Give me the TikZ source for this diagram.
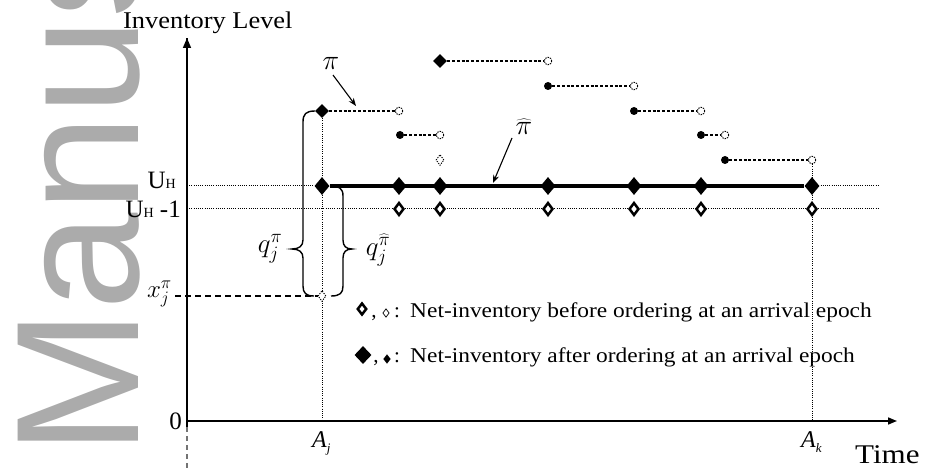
\RequirePackage{fix-cm}
\documentclass[tikz,border=0pt]{standalone}
\usepackage{fontspec}
\setmainfont{Liberation Serif}
\newfontfamily\wmfont{Liberation Sans}
\usepackage{graphicx}
\usetikzlibrary{shapes.geometric,arrows.meta,backgrounds}
\newcommand\fs[1]{\fontsize{#1}{#1}\selectfont}
\begin{document}
\begin{tikzpicture}[x=1pt,y=-1pt,
  bigD/.style={diamond,fill=black,inner sep=0pt,minimum width=15pt,minimum height=18pt},
  stepD/.style={diamond,fill=black,inner sep=0pt,minimum width=14pt,minimum height=14pt},
  openD/.style={diamond,draw=black,line width=2.5pt,fill=white,inner sep=0pt,minimum width=10pt,minimum height=13pt},
  dashD/.style={diamond,draw=black,line width=0.9pt,dash pattern=on 1.2pt off 1.2pt,fill=white,inner sep=0pt,minimum width=8pt,minimum height=11pt},
  fdot/.style={circle,fill=black,inner sep=0pt,minimum size=8pt},
  odot/.style={circle,draw=black,line width=0.9pt,dash pattern=on 1.4pt off 1pt,fill=white,inner sep=0pt,minimum size=7.5pt},
  legOpen/.style={diamond,draw=black,line width=2.5pt,fill=white,inner sep=0pt,minimum width=9.5pt,minimum height=12pt},
  legThin/.style={diamond,draw=black,line width=0.7pt,fill=white,inner sep=0pt,minimum width=6.5pt,minimum height=8.5pt},
  legBig/.style={diamond,fill=black,inner sep=0pt,minimum width=17pt,minimum height=18pt},
  legSmall/.style={diamond,fill=black,inner sep=0pt,minimum width=7.5pt,minimum height=9.5pt},
  stepline/.style={line width=1.2pt,dash pattern=on 3pt off 1.8pt},
  dotline/.style={line width=1pt,dash pattern=on 1pt off 1.2pt},
  axisline/.style={line width=1.6pt},
  bracepath/.style={line width=1.4pt},
  lbl/.style={inner sep=0pt},
  ptr/.style={line width=1.1pt,-{Stealth[length=8pt,width=6pt]}},
]
\useasboundingbox (0,0) rectangle (927,468);

% coordinates
\coordinate (O) at (187,421);
\coordinate (Ybot) at (187,427);
\coordinate (Ydash) at (187,468);
\coordinate (Ytop) at (187,38);
\coordinate (Xend) at (897,421);
\coordinate (Aj) at (322,421);
\coordinate (Ak) at (812,421);
\coordinate (UHl) at (187,186);
\coordinate (UHr) at (880,186);
\coordinate (UMl) at (187,209);
\coordinate (UMr) at (880,209);
\coordinate (Xl) at (175,296);
\coordinate (pa1) at (333,75);
\coordinate (pa2) at (356,106);
\coordinate (pha1) at (512,138);
\coordinate (pha2) at (493,183);

% U_H level diamonds (after ordering)
\node[bigD] (u0) at (322,186) {};
\node[bigD] (u1) at (399,186) {};
\node[bigD] (u2) at (440,186) {};
\node[bigD] (u3) at (548,186) {};
\node[bigD] (u4) at (634,186) {};
\node[bigD] (u5) at (701,186) {};
\node[bigD] (u6) at (812,186) {};
% U_H-1 level open diamonds (before ordering)
\node[openD] (m1) at (399,209) {};
\node[openD] (m2) at (440,209) {};
\node[openD] (m3) at (548,209) {};
\node[openD] (m4) at (634,209) {};
\node[openD] (m5) at (701,209) {};
\node[openD] (m6) at (812,209) {};
% x_j^pi open diamond
\node[dashD] (xo) at (322,296) {};
\node[dashD] (sd) at (440,160) {};
% policy pi steps
\node[stepD] (d1) at (322,111) {};
\node[odot] (o1) at (399,111) {};
\node[fdot] (f2) at (400,135) {};
\node[odot] (o2) at (440,135) {};
\node[stepD] (d3) at (440,61) {};
\node[odot] (o3) at (548,61) {};
\node[fdot] (f4) at (548,86) {};
\node[odot] (o4) at (634,86) {};
\node[fdot] (f5) at (634,111) {};
\node[odot] (o5) at (701,111) {};
\node[fdot] (f6) at (701,135) {};
\node[odot] (o6) at (725,135) {};
\node[fdot] (f7) at (725,160) {};
\node[odot] (o7) at (812,160) {};

% labels
\node[lbl,anchor=base west,font=\fs{24}] (ylab) at (123,29) {\scalebox{1.1}[1]{Inventory Level}};
\node[lbl,anchor=base west,font=\fs{27}] (xlab) at (855,463) {\scalebox{1.15}[1]{Time}};
\node[lbl,anchor=east,font=\fs{25}] (zero) at (182,421) {0};
\node[lbl,anchor=base east,font=\fs{25}] (uh) at (176,189) {U{\fs{14}H}};
\node[lbl,anchor=base east,font=\fs{25}] (uh1) at (181,218) {U{\fs{14}H} -1};
\node[lbl,anchor=east,font=\fs{25}] (xj) at (172,294) {$x_j^{\pi}$};
\node[lbl,font=\fs{27}] (qpi) at (270,249) {$q_j^{\pi}$};
\node[lbl,font=\fs{27}] (qhat) at (378,250) {$q_j^{\widehat{\pi}}$};
\node[lbl,font=\fs{28}] (pil) at (331,63) {$\pi$};
\node[lbl,font=\fs{28}] (phl) at (524,127) {$\widehat{\pi}$};
\node[lbl,anchor=north west,font=\fs{24}] (ajl) at (312,431) {\textit{A}\raisebox{-5pt}{\fs{13}\textit{j}}};
\node[lbl,anchor=north west,font=\fs{24}] (akl) at (801,431) {\textit{A}\raisebox{-5pt}{\fs{13}\textit{k}}};

% legend
\node[legOpen] (lg1a) at (362,309) {};
\node[lbl,anchor=base,font=\fs{21}] (lc1) at (374,317) {,};
\node[legThin] (lg1b) at (386,313) {};
\node[lbl,anchor=base,font=\fs{21}] (lk1) at (397,317) {:};
\node[lbl,anchor=base west,font=\fs{21}] (lt1) at (410,317) {\scalebox{1.115}[1]{Net-inventory before ordering at an arrival epoch}};
\node[legBig] (lg2a) at (363,355) {};
\node[lbl,anchor=base,font=\fs{21}] (lc2) at (376,362) {,};
\node[legSmall] (lg2b) at (387,359) {};
\node[lbl,anchor=base,font=\fs{21}] (lk2) at (397,362) {:};
\node[lbl,anchor=base west,font=\fs{21}] (lt2) at (410,362) {\scalebox{1.115}[1]{Net-inventory after ordering at an arrival epoch}};

\begin{pgfonlayer}{background}
  % watermark
  \begin{scope}
    \clip (0,0) rectangle (927,468);
    \node[rotate=90,anchor=base west,inner sep=0pt,text=black!33,font=\wmfont\fs{175}] (wm) at (138,456) {Manus};
  \end{scope}
  % reference lines
  \draw[dotline] (UHl) -- (UHr);
  \draw[dotline] (UMl) -- (UMr);
  \draw[dotline] (d1) -- (Aj);
  \draw[dotline] (o7) -- (Ak);
  \draw[line width=1.3pt,dash pattern=on 6pt off 4pt] (Xl) -- (xo);
  % axes
  \draw[axisline] (Ybot) -- (Ytop);
  \draw[axisline,-{Triangle[length=10pt,width=8pt]}] (O) -- (Ytop);
  \draw[axisline,-{Triangle[length=9pt,width=7pt]}] (O) -- (Xend);
  \draw[line width=1.2pt,black!55,dash pattern=on 5pt off 4pt] (Ybot) -- (Ydash);
  % policy hat-pi
  \draw[line width=3.6pt] (u0) -- (u6);
  % policy pi steps
  \draw[stepline] (d1) -- (o1);
  \draw[stepline] (f2) -- (o2);
  \draw[stepline] (d3) -- (o3);
  \draw[stepline] (f4) -- (o4);
  \draw[stepline] (f5) -- (o5);
  \draw[stepline] (f6) -- (o6);
  \draw[stepline] (f7) -- (o7);
  % braces
  \draw[bracepath] (315,111) .. controls (306,111) and (303,114) .. (303,122) -- (303,240) .. controls (303,246) and (299,249) .. (292,249) .. controls (299,249) and (303,252) .. (303,258) -- (303,286) .. controls (303,293) and (306,296) .. (314,296);
  \draw[bracepath] (330,186) .. controls (339,186) and (343,188) .. (343,196) -- (343,240) .. controls (343,246) and (346,249) .. (352,249) .. controls (346,249) and (343,252) .. (343,258) -- (343,286) .. controls (343,293) and (340,296) .. (331,296);
  % pointers
  \draw[ptr] (pa1) -- (pa2);
  \draw[ptr] (pha1) -- (pha2);
\end{pgfonlayer}
\end{tikzpicture}
\end{document}
